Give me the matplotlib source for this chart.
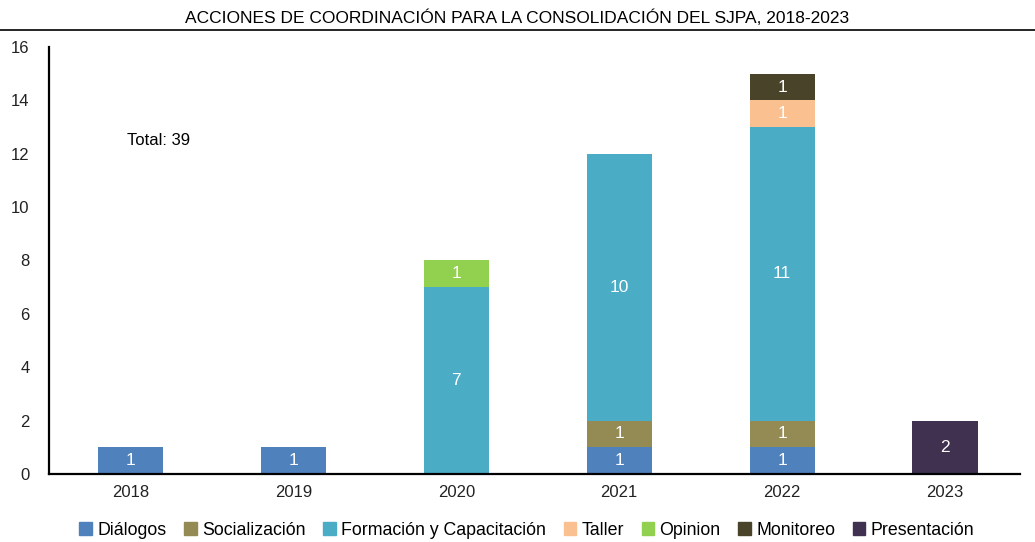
import numpy as np
import matplotlib
matplotlib.use('Agg')
import matplotlib.pyplot as plt
from matplotlib.lines import Line2D

plt.rcParams['font.family'] = ['Liberation Sans', 'DejaVu Sans']

years = ['2018', '2019', '2020', '2021', '2022', '2023']
categories = ['Diálogos', 'Socialización', 'Formación y Capacitación', 'Taller',
              'Opinion', 'Monitoreo', 'Presentación']
dialogos = [1, 1, 0, 1, 1, 0]
socializacion = [0, 0, 0, 1, 1, 0]
formacion = [0, 0, 7, 10, 11, 0]
taller = [0, 0, 0, 0, 1, 0]
opinion = [0, 0, 1, 0, 0, 0]
monitoreo = [0, 0, 0, 0, 1, 0]
presentacion = [0, 0, 0, 0, 0, 2]
total_label = 'Total: 39'

series = [dialogos, socializacion, formacion, taller, opinion, monitoreo, presentacion]
colors = ['#4F81BD', '#948A54', '#4BACC6', '#FAC090', '#92D050', '#494429', '#403151']

fig = plt.figure(figsize=(10.35, 5.42), dpi=100)
ax = fig.add_axes([0.0473, 0.1255, 0.9382, 0.7878])

x = np.arange(len(years))
bottom = np.zeros(len(years))
for vals, color in zip(series, colors):
    vals = np.array(vals, dtype=float)
    ax.bar(x, vals, 0.4, bottom=bottom, color=color)
    for xi, v, b in zip(x, vals, bottom):
        if v > 0:
            ax.text(xi, b + v / 2, f'{int(v)}', ha='center', va='center',
                    color='white', fontsize=12.5)
    bottom += vals

ax.set_xlim(-0.5, 5.46)
ax.set_ylim(0, 16)
ax.set_yticks(np.arange(0, 17, 2))
ax.set_xticks(x)
ax.set_xticklabels(years)
ax.tick_params(axis='both', length=0, labelsize=12, colors='#222222')
ax.tick_params(axis='y', pad=14)
ax.tick_params(axis='x', pad=8)
for s in ['top', 'right']:
    ax.spines[s].set_visible(False)
for s in ['left', 'bottom']:
    ax.spines[s].set_linewidth(1.6)

ax.text(-0.02, 12.5, total_label, ha='left', va='center', fontsize=12)

fig.text(0.5, 0.968, 'ACCIONES DE COORDINACIÓN PARA LA CONSOLIDACIÓN DEL SJPA, 2018-2023',
         ha='center', va='center', fontsize=12.5)
fig.add_artist(Line2D([0, 1], [0.945, 0.945], color='black', linewidth=1.2,
                      transform=fig.transFigure))

handles = [plt.Rectangle((0, 0), 1, 1, color=c) for c in colors]
fig.legend(handles, categories, loc='center', bbox_to_anchor=(0.509, 0.022), ncol=7,
           frameon=False, fontsize=12.8, handlelength=0.7, handleheight=0.7,
           handletextpad=0.3, columnspacing=1.0)

fig.savefig('out.png', dpi=100)
